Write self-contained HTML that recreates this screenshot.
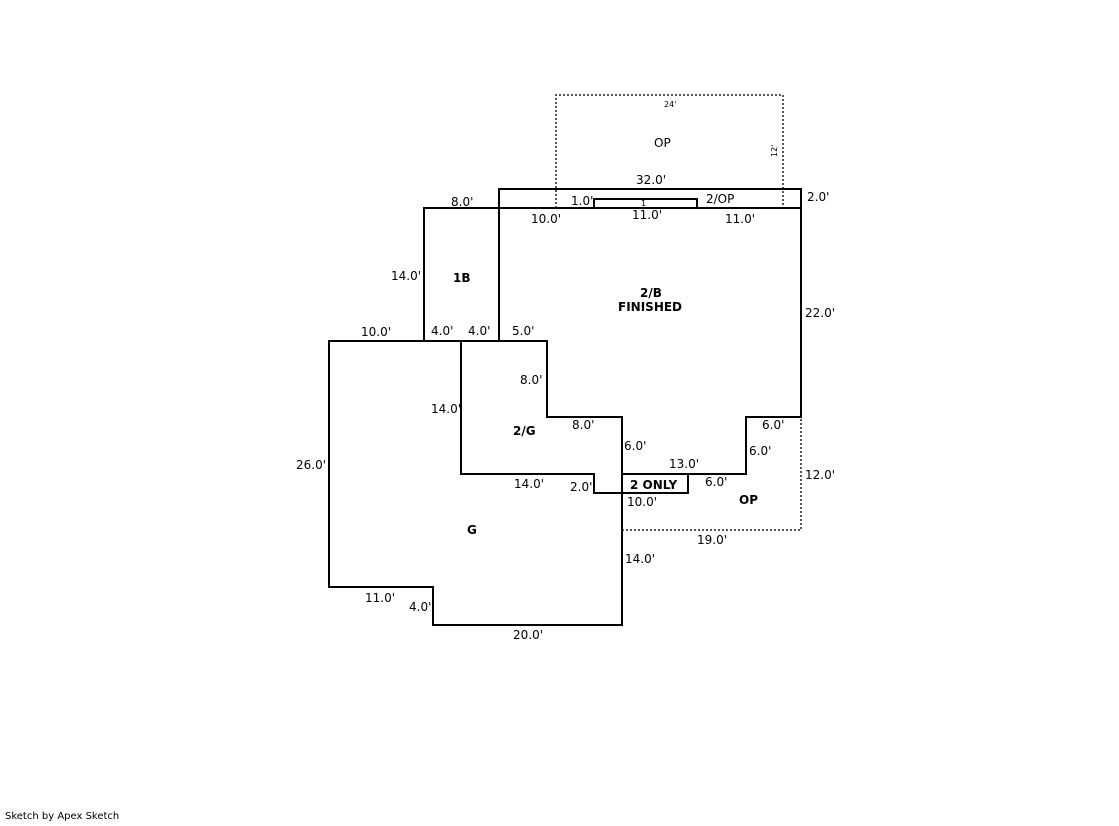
<!DOCTYPE html>
<html><head><style>
body{margin:0;background:#fff;width:1119px;height:821px;overflow:hidden}
svg text{font-family:"DejaVu Sans",Verdana,sans-serif;font-size:12px;fill:#000}
.b{font-weight:bold}
</style></head><body>
<svg width="1119" height="821" xmlns="http://www.w3.org/2000/svg">
<g fill="none" stroke="#555" stroke-width="2" stroke-dasharray="2,2">
<path d="M556,208 V95 H783 V208"/>
<path d="M622,530 H801 V417"/>
</g>
<g fill="none" stroke="#000" stroke-width="2">
<rect x="499" y="189" width="302" height="19"/>
<rect x="594" y="199" width="103" height="9"/>
<path d="M801,208 V417 H746 V474 H622"/>
<rect x="622" y="474" width="66" height="19"/>
<path d="M424,341 V208 H499 V341"/>
<path d="M329,341 H547 V417 H622 V625 H433 V587 H329 Z"/>
<path d="M461,341 V474 H594 V493 H622"/>
</g>
<text x="664" y="107" style="font-size:8px">24'</text>
<text x="654" y="147">OP</text>
<text x="777" y="157" style="font-size:8px" transform="rotate(-90 777 157)">12'</text>
<text x="636" y="184">32.0'</text>
<text x="571" y="205">1.0'</text>
<text x="641" y="206" style="font-size:8px">1</text>
<text x="706" y="203">2/OP</text>
<text x="807" y="201">2.0'</text>
<text x="451" y="206">8.0'</text>
<text x="531" y="223">10.0'</text>
<text x="632" y="219">11.0'</text>
<text x="725" y="223">11.0'</text>
<text x="391" y="280">14.0'</text>
<text x="453" y="282" class="b">1B</text>
<text x="640" y="297" class="b">2/B</text>
<text x="618" y="311" class="b">FINISHED</text>
<text x="805" y="317">22.0'</text>
<text x="361" y="336">10.0'</text>
<text x="431" y="335">4.0'</text>
<text x="468" y="335">4.0'</text>
<text x="512" y="335">5.0'</text>
<text x="520" y="384">8.0'</text>
<text x="431" y="413">14.0'</text>
<text x="572" y="429">8.0'</text>
<text x="513" y="435" class="b">2/G</text>
<text x="762" y="429">6.0'</text>
<text x="624" y="450">6.0'</text>
<text x="749" y="455">6.0'</text>
<text x="296" y="469">26.0'</text>
<text x="669" y="468">13.0'</text>
<text x="805" y="479">12.0'</text>
<text x="514" y="488">14.0'</text>
<text x="570" y="491">2.0'</text>
<text x="630" y="489" class="b">2 ONLY</text>
<text x="705" y="486">6.0'</text>
<text x="627" y="506">10.0'</text>
<text x="739" y="504" class="b">OP</text>
<text x="467" y="534" class="b">G</text>
<text x="697" y="544">19.0'</text>
<text x="625" y="563">14.0'</text>
<text x="365" y="602">11.0'</text>
<text x="409" y="611">4.0'</text>
<text x="513" y="639">20.0'</text>
<text x="5" y="819" style="font-size:10px">Sketch by Apex Sketch</text>
</svg>
</body></html>
